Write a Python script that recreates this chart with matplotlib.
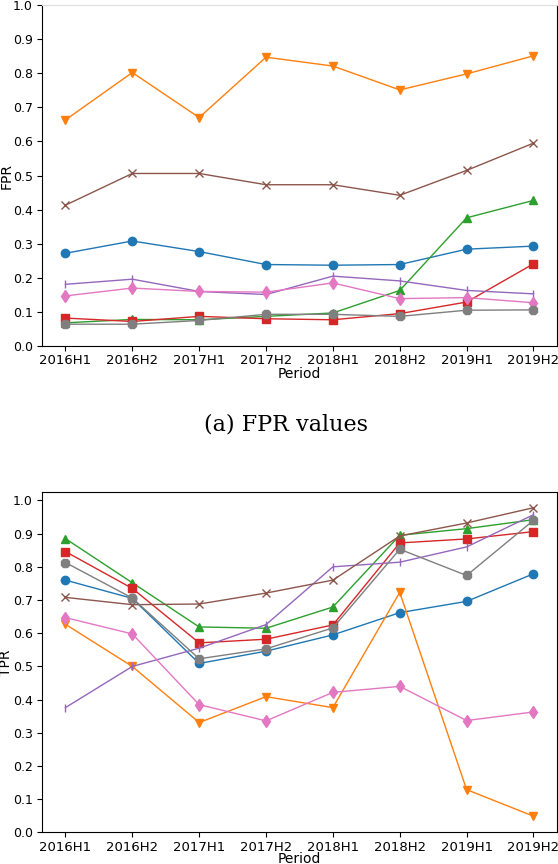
import matplotlib
matplotlib.use("Agg")
import matplotlib.pyplot as plt

periods = ['2016H1', '2016H2', '2017H1', '2017H2', '2018H1', '2018H2', '2019H1', '2019H2']

# ---------- FPR values (top panel)
fpr_blue = [0.272, 0.308, 0.277, 0.239, 0.237, 0.239, 0.284, 0.293]
fpr_orange = [0.663, 0.802, 0.670, 0.847, 0.821, 0.751, 0.798, 0.851]
fpr_green = [0.068, 0.078, 0.077, 0.087, 0.097, 0.163, 0.376, 0.427]
fpr_red = [0.082, 0.072, 0.087, 0.080, 0.077, 0.095, 0.129, 0.241]
fpr_purple = [0.181, 0.196, 0.160, 0.151, 0.205, 0.191, 0.163, 0.153]
fpr_brown = [0.413, 0.506, 0.506, 0.473, 0.473, 0.442, 0.515, 0.595]
fpr_pink = [0.147, 0.170, 0.160, 0.158, 0.185, 0.139, 0.142, 0.127]
fpr_gray = [0.064, 0.064, 0.075, 0.093, 0.093, 0.087, 0.105, 0.106]

# ---------- TPR values (bottom panel)
tpr_blue = [0.760, 0.705, 0.509, 0.546, 0.595, 0.662, 0.696, 0.779]
tpr_orange = [0.627, 0.500, 0.331, 0.409, 0.376, 0.723, 0.129, 0.049]
tpr_green = [0.885, 0.752, 0.619, 0.615, 0.679, 0.895, 0.915, 0.942]
tpr_red = [0.846, 0.735, 0.571, 0.582, 0.625, 0.872, 0.884, 0.906]
tpr_purple = [0.376, 0.500, 0.555, 0.626, 0.800, 0.814, 0.860, 0.957]
tpr_brown = [0.708, 0.686, 0.688, 0.721, 0.760, 0.893, 0.932, 0.978]
tpr_pink = [0.647, 0.598, 0.385, 0.336, 0.422, 0.440, 0.337, 0.363]
tpr_gray = [0.813, 0.706, 0.523, 0.553, 0.616, 0.853, 0.774, 0.940]

styles = [('tab:blue', 'o'), ('tab:orange', 'v'), ('tab:green', '^'), ('tab:red', 's'),
          ('tab:purple', '|'), ('tab:brown', 'x'), ('tab:pink', 'd'), ('tab:gray', '8')]

fpr_series = [fpr_blue, fpr_orange, fpr_green, fpr_red, fpr_purple, fpr_brown, fpr_pink, fpr_gray]
tpr_series = [tpr_blue, tpr_orange, tpr_green, tpr_red, tpr_purple, tpr_brown, tpr_pink, tpr_gray]

fig = plt.figure(figsize=(5.58, 8.64), dpi=100)
ax1 = fig.add_axes([0.0753, 0.5995, 0.9227, 0.3947])
ax2 = fig.add_axes([0.0753, 0.0365, 0.9227, 0.3937])

for ax, series, ylabel in [(ax1, fpr_series, 'FPR'), (ax2, tpr_series, 'TPR')]:
    for vals, (c, m) in zip(series, styles):
        ax.plot(periods, vals, color=c, marker=m, linewidth=1, markersize=6)
    ax.set_ylabel(ylabel, fontsize=10)
    ax.yaxis.set_label_coords(-0.056, 0.5)
    ax.tick_params(axis='y', labelsize=9, pad=3)
    ax.tick_params(axis='x', labelsize=9.5, pad=2.5)
    ax.set_yticks([0.0, 0.1, 0.2, 0.3, 0.4, 0.5, 0.6, 0.7, 0.8, 0.9, 1.0])

ax1.set_xlabel('Period', fontsize=10, labelpad=0)
ax2.set_xlabel('Period', fontsize=10, labelpad=-1.5)
ax1.set_ylim(0, 1.0)
ax1.spines['top'].set_color('#dddddd')
ax2.set_ylim(bottom=0)

fig.text(0.513, 0.509, '(a) FPR values', ha='center', va='center',
         fontsize=16, family='DejaVu Serif')

fig.savefig('out.png', dpi=100)
